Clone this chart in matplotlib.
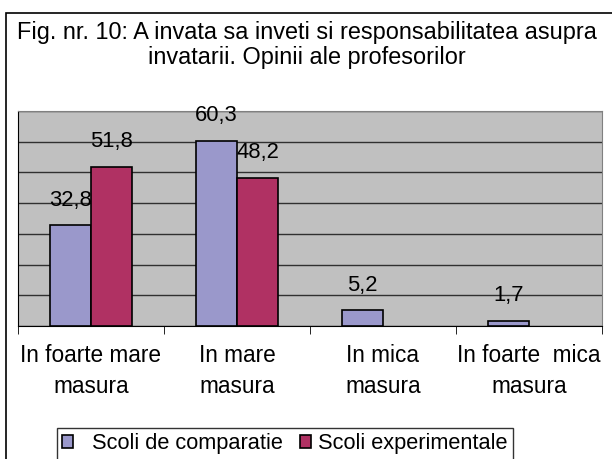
import matplotlib
matplotlib.use('Agg')
import matplotlib.pyplot as plt
from matplotlib.patches import Rectangle
import numpy as np

plt.rcParams['font.family'] = ['Liberation Sans', 'DejaVu Sans']

categories = ['In foarte mare\nmasura', 'In mare\nmasura', 'In mica\nmasura', 'In foarte  mica\nmasura']
comparatie = [32.8, 60.3, 5.2, 1.7]
experimentale = [51.8, 48.2, None, None]
series_names = ['  Scoli de comparatie', 'Scoli experimentale']

blue = '#9A98CB'
red = '#B03163'

fig = plt.figure(figsize=(6.12, 4.59), dpi=100)
ax = fig.add_axes([18/612, 1 - 326/459, 584/612, 215/459])
ax.set_facecolor('#C0C0C0')

x = np.arange(len(categories))
w = 0.28
b1 = ax.bar(x - w/2, comparatie, w, color=blue, edgecolor='black', linewidth=1.2,
            label=series_names[0], zorder=3)
exp_vals = [v if v is not None else 0 for v in experimentale]
b2 = ax.bar(x + w/2, exp_vals, w, color=red, edgecolor='black', linewidth=1.2,
            label=series_names[1], zorder=3)
for r, v in zip(b2, experimentale):
    if v is None:
        r.set_visible(False)

def fmt(v):
    return ('%.1f' % v).replace('.', ',')

for bars, vals in ((b1, comparatie), (b2, experimentale)):
    for r, v in zip(bars, vals):
        if v is None:
            continue
        ax.annotate(fmt(v), (r.get_x() + r.get_width()/2, v), xytext=(0, 18),
                    textcoords='offset points', ha='center', va='center',
                    fontsize=15.8, zorder=4)

ax.set_xlim(-0.5, 3.5)
ax.set_ylim(0, 70)
ax.set_yticks(np.arange(0, 71, 10))
ax.set_yticklabels([])
ax.tick_params(axis='y', length=0)
ax.yaxis.grid(True, color='#303030', linewidth=1, zorder=0)

ax.set_xticks(x)
ax.set_xticklabels(categories, fontsize=16.3, linespacing=1.42)
ax.tick_params(axis='x', length=0, pad=13)
ax.set_xticks(np.arange(-0.5, 4, 1), minor=True)
ax.tick_params(axis='x', which='minor', length=6, direction='out', color='black')

for s in ('top', 'right'):
    ax.spines[s].set_color('#808080')
ax.spines['left'].set_color('black')
ax.spines['bottom'].set_color('black')

fig.text(307/612, 1 - 45/459, 'Fig. nr. 10: A invata sa inveti si responsabilitatea asupra\ninvatarii. Opinii ale profesorilor',
         ha='center', va='center', fontsize=16.9, linespacing=1.15)

leg = fig.legend(handles=[b1, b2], loc='upper left', bbox_to_anchor=(57/612, 1 - 428/459),
                 ncol=2, fontsize=15.7, frameon=True, fancybox=False, handlelength=0.5,
                 handleheight=0.5, handletextpad=0.3, columnspacing=0.8,
                 borderpad=0.25, borderaxespad=0)
leg.get_frame().set_edgecolor('black')
leg.get_frame().set_linewidth(1)

fig.patches.append(Rectangle((6/612, -0.1), 1, 1 - 13/459 + 0.1, transform=fig.transFigure,
                             fill=False, edgecolor='black', linewidth=1.2))

fig.savefig('out.png', dpi=100)
